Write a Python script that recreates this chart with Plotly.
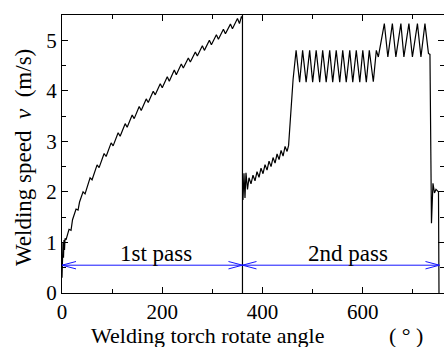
import plotly.graph_objects as go

# ---- data ----
pass1_angle = [0, 1, 2, 3, 4, 5, 6, 8, 14, 18, 21, 28, 32, 35,
               42, 46, 56, 60, 70, 74, 84, 88, 98, 102, 112, 116, 126, 130,
               140, 144, 154, 158, 168, 172, 182, 186, 196, 200, 210, 214,
               224, 228, 238, 242, 252, 256, 266, 270, 280, 284, 294, 298,
               308, 312, 322, 326, 336, 340, 350, 354, 358, 360]
pass1_speed = [0.30, 0.60, 1.00, 0.70, 1.05, 0.85, 1.08, 1.05, 1.26, 1.24, 1.45, 1.66, 1.64, 1.80,
               2.00, 1.96, 2.28, 2.24, 2.535, 2.48, 2.76, 2.70, 2.97, 2.91, 3.17, 3.10, 3.35, 3.28,
               3.52, 3.45, 3.69, 3.61, 3.84, 3.77, 3.99, 3.92, 4.14, 4.06, 4.28, 4.19,
               4.41, 4.32, 4.53, 4.45, 4.65, 4.57, 4.77, 4.69, 4.89, 4.80, 5.00, 4.91,
               5.11, 5.02, 5.22, 5.13, 5.32, 5.23, 5.43, 5.33, 5.47, 5.43]

pass2_angle = [361, 363, 365, 367, 370, 373, 377, 381, 385, 389, 393, 397, 401, 405,
               409, 413, 417, 421, 425, 429, 433, 437, 441, 445, 449, 452, 461, 467,
               474, 480, 487, 494, 500, 507, 514, 520, 527, 534, 540, 547, 554, 560,
               567, 574, 580, 587, 594, 600, 607, 613, 621, 627, 631, 643, 650, 659,
               666, 676, 682, 692, 699, 709, 716, 724, 731, 734, 737, 740, 743, 746,
               749, 751, 752]
pass2_speed = [1.84, 2.37, 1.88, 2.38, 2.05, 2.28, 2.16, 2.33, 2.22, 2.40, 2.29, 2.47, 2.36, 2.54,
               2.43, 2.61, 2.50, 2.68, 2.57, 2.75, 2.64, 2.82, 2.71, 2.90, 2.80, 2.92, 4.23, 4.80,
               4.17, 4.80, 4.17, 4.80, 4.17, 4.80, 4.17, 4.80, 4.17, 4.80, 4.17, 4.80, 4.17, 4.80,
               4.17, 4.80, 4.17, 4.80, 4.17, 4.80, 4.17, 4.80, 4.18, 4.80, 4.67, 5.33, 4.67, 5.33,
               4.67, 5.33, 4.67, 5.33, 4.67, 5.33, 4.67, 5.33, 4.74, 4.72, 1.38, 2.17, 1.98, 2.05,
               2.02, 2.00, 0.0]

pass_labels = ["1st pass", "2nd pass"]
pass_start = [0, 360]
pass_end = [360, 753]
arrow_level = 0.55
boundary_angle = 360

x_ticks = [0, 200, 400, 600]
y_ticks = [0, 1, 2, 3, 4, 5]
x_range = [0, 762]
y_range = [0, 5.5]

# ---- layout constants ----
W, H = 444, 347
ML, MR, MT, MB = 62, 0, 15, 54
plot_w = W - ML - MR
plot_h = H - MT - MB
px_x = plot_w / (x_range[1] - x_range[0])
px_y = plot_h / (y_range[1] - y_range[0])

FONT = "Liberation Serif"
BLUE = "#1414ff"

fig = go.Figure()
fig.add_trace(go.Scatter(x=pass1_angle + [None] + pass2_angle,
                         y=pass1_speed + [None] + pass2_speed,
                         mode="lines", line=dict(color="black", width=1.2),
                         showlegend=False, hoverinfo="skip", connectgaps=False))

shapes = []
# boundary between passes
shapes.append(dict(type="line", xref="x", yref="y", x0=boundary_angle, x1=boundary_angle,
                   y0=y_range[0], y1=y_range[1], line=dict(color="black", width=1.2)))
# double arrows
dx = 14 / px_x
dy = 3.7 / px_y
for s, e in zip(pass_start, pass_end):
    shapes.append(dict(type="line", xref="x", yref="y", x0=s, x1=e, y0=arrow_level, y1=arrow_level,
                       line=dict(color=BLUE, width=1)))
    shapes.append(dict(type="path", xref="x", yref="y",
                       path=f"M{s+dx},{arrow_level+dy} L{s},{arrow_level} L{s+dx},{arrow_level-dy}",
                       line=dict(color=BLUE, width=1)))
    shapes.append(dict(type="path", xref="x", yref="y",
                       path=f"M{e-dx},{arrow_level+dy} L{e},{arrow_level} L{e-dx},{arrow_level-dy}",
                       line=dict(color=BLUE, width=1)))

annotations = []
label_x = [187, 570]
for lab, lx in zip(pass_labels, label_x):
    annotations.append(dict(text=lab, x=lx, y=arrow_level, xref="x", yref="y",
                            xanchor="center", yanchor="bottom", yshift=-3, showarrow=False,
                            font=dict(family=FONT, size=23, color="black")))

annotations.append(dict(text="Welding torch rotate angle", xref="paper", yref="paper",
                        x=(207 - ML) / plot_w, y=(H - MB - 335) / plot_h,
                        xanchor="center", yanchor="middle", showarrow=False,
                        font=dict(family=FONT, size=22, color="black")))
annotations.append(dict(text="( ° )", xref="paper", yref="paper",
                        x=(406 - ML) / plot_w, y=(H - MB - 335) / plot_h,
                        xanchor="center", yanchor="middle", showarrow=False,
                        font=dict(family=FONT, size=22, color="black")))
annotations.append(dict(text="Welding speed  <i>v</i>  (m/s)", xref="paper", yref="paper",
                        x=(23 - ML) / plot_w, y=(H - MB - 158) / plot_h,
                        xanchor="center", yanchor="middle", textangle=-90, showarrow=False,
                        font=dict(family=FONT, size=23, color="black")))

axis_common = dict(showline=True, linecolor="black", linewidth=1.2, mirror="ticks",
                   ticks="inside", ticklen=6, tickwidth=1, tickcolor="black",
                   showgrid=False, zeroline=False,
                   tickfont=dict(family=FONT, size=21, color="black"))

fig.update_layout(
    width=W, height=H,
    margin=dict(l=ML, r=MR, t=MT, b=MB, pad=0),
    paper_bgcolor="white", plot_bgcolor="white",
    xaxis=dict(range=x_range, tickvals=x_ticks,
               minor=dict(dtick=100, ticks="inside", ticklen=4, tickcolor="black", showgrid=False),
               **axis_common),
    yaxis=dict(range=y_range, tickvals=y_ticks,
               minor=dict(dtick=0.5, ticks="inside", ticklen=4, tickcolor="black", showgrid=False),
               **axis_common),
    shapes=shapes, annotations=annotations,
)

fig.write_html("out.html", config={"displayModeBar": False},
               post_script="document.body.style.margin='0';document.body.style.overflow='hidden';")
